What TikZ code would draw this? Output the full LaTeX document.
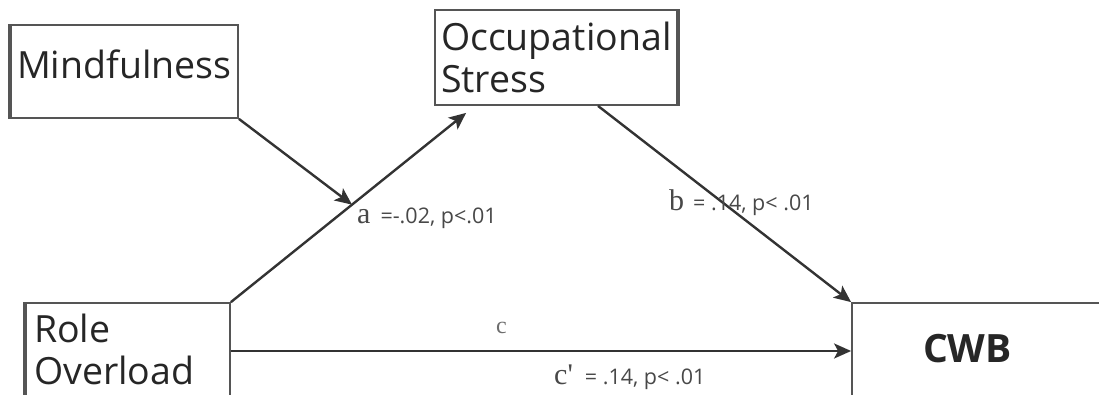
\documentclass[tikz,border=0pt]{standalone}
\usepackage{fontspec}
\setsansfont{Open Sans}
\newfontfamily\pathfont{Liberation Serif}
\usepackage{xcolor}
\usepackage{tikz}
\usetikzlibrary{
    arrows.meta,
    positioning,
    calc
}
\definecolor{boxline}{HTML}{555555}
\definecolor{arrowline}{HTML}{333333}
\definecolor{labeltext}{HTML}{484848}
\tikzset{
    construct/.style={
        draw=boxline,
        line width=1.8pt,
        rectangle,
        align=left,
        inner xsep=6pt,
        font=\sffamily\fontsize{37.5}{42}\selectfont,
        text=black!85
    }
}
\tikzset{
    sideedge/.style={
        draw=boxline,
        line width=4pt
    }
}
\tikzset{
    effect/.style={
        draw=arrowline,
        line width=2.4pt,
        -{Stealth[length=17pt,width=15pt,inset=4pt]}
    }
}
\tikzset{
    coef/.style={
        anchor=base west,
        inner sep=0pt,
        text=labeltext,
        font=\sffamily\fontsize{21.5}{24}\selectfont
    }
}
\newcommand{\pathletter}[1]{{\pathfont\fontsize{30}{32}\selectfont #1}}

\begin{document}
\begin{tikzpicture}[
    x=1pt,
    y=-1pt
]

\useasboundingbox (0,0) rectangle (1099,395);
\clip (0,0) rectangle (1099,395);

% ------------------------------------------------------------
% Constructs
% ------------------------------------------------------------

\node[construct, minimum width=227pt, minimum height=93pt, text width=215pt,
    text height=27pt, text depth=13pt] (mind) at (124.5,71.5) {Mindfulness};
\node[construct, minimum width=242pt, minimum height=95pt, text width=230pt,
    text height=28pt, text depth=42pt] (occ) at (556,57.5) {Occupational\\Stress};
\node[construct, minimum width=204pt, minimum height=96pt, inner xsep=8pt, text width=188pt,
    text height=26pt, text depth=43pt] (role) at (128,351) {Role\\Overload};
\node[construct, minimum width=268pt, minimum height=112pt, text width=126pt,
    text height=28pt, text depth=21pt,
    font=\sffamily\bfseries\fontsize{39}{42}\selectfont] (cwb) at (986,359) {CWB};

\draw[sideedge] (mind.north west) -- (mind.south west);
\draw[sideedge] (occ.north east) -- (occ.south east);
\draw[sideedge] (role.north west) -- (role.south west);

% ------------------------------------------------------------
% Paths
% ------------------------------------------------------------

\coordinate (occin) at ([shift={(32,7)}]occ.south west);
\coordinate (ajoin) at ($(role.north east)!0.515!(occin)$);
\draw[effect] (role.north east) -- (occin);
\draw[effect] (mind.south east) -- (ajoin);
\draw[effect] ([xshift=42pt]occ.south) -- (cwb.north west);
\draw[effect] (role.east) -- (role.east -| cwb.west);

% ------------------------------------------------------------
% Coefficients
% ------------------------------------------------------------

\node[coef] (alabel) at (357,224) {\pathletter{a}\hspace{10pt}=-.02, p<.01};
\node[coef] (blabel) at (669,211) {\pathletter{b}\hspace{9pt}= .14, p< .01};
\node[coef, text=labeltext!80] (clabel) at (496,333) {{\pathfont\fontsize{24}{26}\selectfont c}};
\node[coef] (cplabel) at (554,384) {\pathletter{c\textquotesingle}\hspace{12pt}= .14, p< .01};

\end{tikzpicture}
\end{document}
